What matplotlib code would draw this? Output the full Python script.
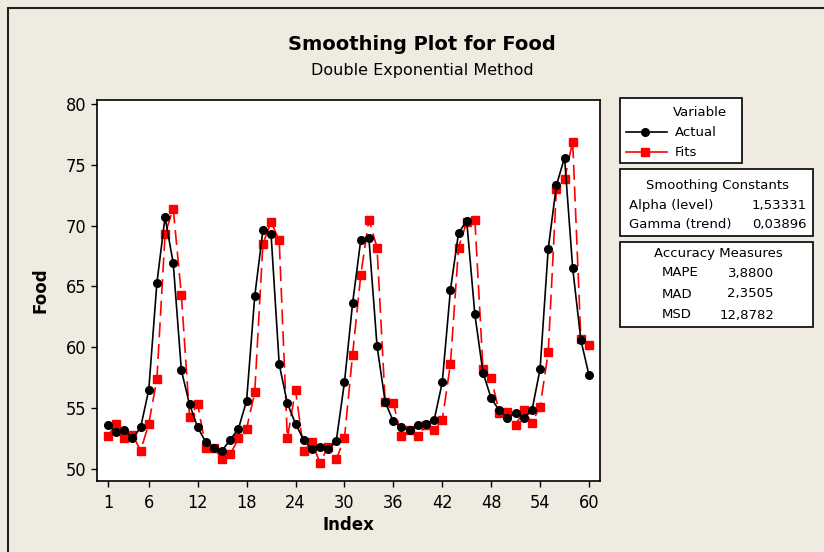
import matplotlib.pyplot as plt
import matplotlib.patches as mpatches
import numpy as np

# data (index 1..60)
index = np.arange(1, 61)
actual = [53.6, 53.0, 53.2, 52.5, 53.4, 56.5, 65.3, 70.7, 66.9, 58.1,
          55.3, 53.4, 52.2, 51.7, 51.5, 52.4, 53.3, 55.6, 64.2, 69.6,
          69.3, 58.6, 55.4, 53.7, 52.4, 51.6, 51.8, 51.6, 52.3, 57.1,
          63.6, 68.8, 69.0, 60.1, 55.5, 53.9, 53.4, 53.2, 53.6, 53.7,
          54.0, 57.1, 64.7, 69.4, 70.4, 62.7, 57.9, 55.8, 54.8, 54.2,
          54.6, 54.2, 54.8, 58.2, 68.1, 73.3, 75.6, 66.5, 60.6, 57.7]
fits = [52.7, 53.7, 52.5, 52.8, 51.5, 53.7, 57.4, 69.3, 71.4, 64.3,
        54.3, 55.3, 51.7, 51.7, 50.8, 51.2, 52.5, 53.3, 56.3, 68.5,
        70.3, 68.8, 52.5, 56.5, 51.5, 52.2, 50.5, 51.8, 50.8, 52.5,
        59.4, 65.9, 70.5, 68.2, 55.5, 55.4, 52.7, 53.2, 52.7, 53.6,
        53.2, 54.0, 58.6, 68.2, 70.3, 70.5, 58.2, 57.5, 54.6, 54.7,
        53.6, 54.8, 53.8, 55.1, 59.6, 73.0, 73.8, 76.9, 60.7, 60.2]
xticks = [1, 6, 12, 18, 24, 30, 36, 42, 48, 54, 60]
yticks = [50, 55, 60, 65, 70, 75, 80]
smoothing = [("Alpha (level)", "1,53331"), ("Gamma (trend)", "0,03896")]
accuracy = [("MAPE", "3,8800"), ("MAD", "2,3505"), ("MSD", "12,8782")]

bg = '#EFEBE1'
W, H = 824, 552
fig = plt.figure(figsize=(8.24, 5.52), dpi=100, facecolor=bg)

def fx(px):
    return px / W

def fy(py):
    return 1 - py / H

# outer frame of the graph window
fig.patches.append(mpatches.Rectangle((fx(8), -0.1), 1.2, fy(8) + 0.1,
                                      transform=fig.transFigure, fill=False,
                                      edgecolor='#222222', lw=1.5))

ax = fig.add_axes([fx(97), fy(481), fx(600) - fx(97), fy(100) - fy(481)])
ax.set_facecolor('white')
ax.plot(index, actual, color='black', lw=1.2, marker='o', markersize=5.5, zorder=3)
ax.plot(index, fits, color='red', lw=1.2, dashes=(9, 4), marker='s',
        markersize=6, zorder=2)
ax.set_xlim(-0.35, 61.35)
ax.set_ylim(49.0, 80.33)
ax.set_xticks(xticks)
ax.set_yticks(yticks)
ax.tick_params(direction='out', length=4.5, width=1, labelsize=13)
ax.tick_params(axis='x', pad=5)
ax.tick_params(axis='y', pad=3)
for lab in ax.get_xticklabels() + ax.get_yticklabels():
    lab.set_family('DejaVu Sans')
    lab.set_stretch('condensed')
for sp in ax.spines.values():
    sp.set_linewidth(1.2)
ax.set_xlabel('Index', fontsize=12, fontweight='bold', labelpad=3)
ax.set_ylabel('Food', fontsize=12, fontweight='bold', labelpad=12)

fig.text(fx(422), fy(45), 'Smoothing Plot for Food', ha='center', va='center',
         fontsize=14, fontweight='bold')
fig.text(fx(422), fy(70), 'Double Exponential Method', ha='center', va='center',
         fontsize=11.5)

def box(x0, y0, x1, y1):
    fig.patches.append(mpatches.Rectangle((fx(x0), fy(y1)), fx(x1) - fx(x0),
                                          fy(y0) - fy(y1), transform=fig.transFigure,
                                          facecolor='white', edgecolor='black', lw=1.2))

fs = 9.5
# legend
box(620, 98, 742, 163)
fig.text(fx(700), fy(113), 'Variable', ha='center', va='center', fontsize=fs)
fig.lines.append(plt.Line2D([fx(626), fx(667)], [fy(132), fy(132)], color='black',
                            lw=1.2, transform=fig.transFigure))
fig.lines.append(plt.Line2D([fx(645)], [fy(132)], color='black', marker='o',
                            markersize=5.5, transform=fig.transFigure))
fig.text(fx(675), fy(132), 'Actual', ha='left', va='center', fontsize=fs)
fig.lines.append(plt.Line2D([fx(626), fx(667)], [fy(152), fy(152)], color='red',
                            lw=1.2, transform=fig.transFigure))
fig.lines.append(plt.Line2D([fx(645)], [fy(152)], color='red', marker='s',
                            markersize=6, transform=fig.transFigure))
fig.text(fx(675), fy(152), 'Fits', ha='left', va='center', fontsize=fs)

# smoothing constants
box(620, 169, 813, 236)
fig.text(fx(718), fy(185), 'Smoothing Constants', ha='center', va='center', fontsize=fs)
for i, (name, val) in enumerate(smoothing):
    yy = 205 + 20 * i
    fig.text(fx(629), fy(yy), name, ha='left', va='center', fontsize=fs)
    fig.text(fx(807), fy(yy), val, ha='right', va='center', fontsize=fs)

# accuracy measures
box(620, 242, 813, 327)
fig.text(fx(718), fy(254), 'Accuracy Measures', ha='center', va='center', fontsize=fs)
for i, (name, val) in enumerate(accuracy):
    yy = 273 + 21 * i
    fig.text(fx(662), fy(yy), name, ha='left', va='center', fontsize=fs)
    fig.text(fx(774), fy(yy), val, ha='right', va='center', fontsize=fs)

fig.savefig('out.png', dpi=100, facecolor=bg)
